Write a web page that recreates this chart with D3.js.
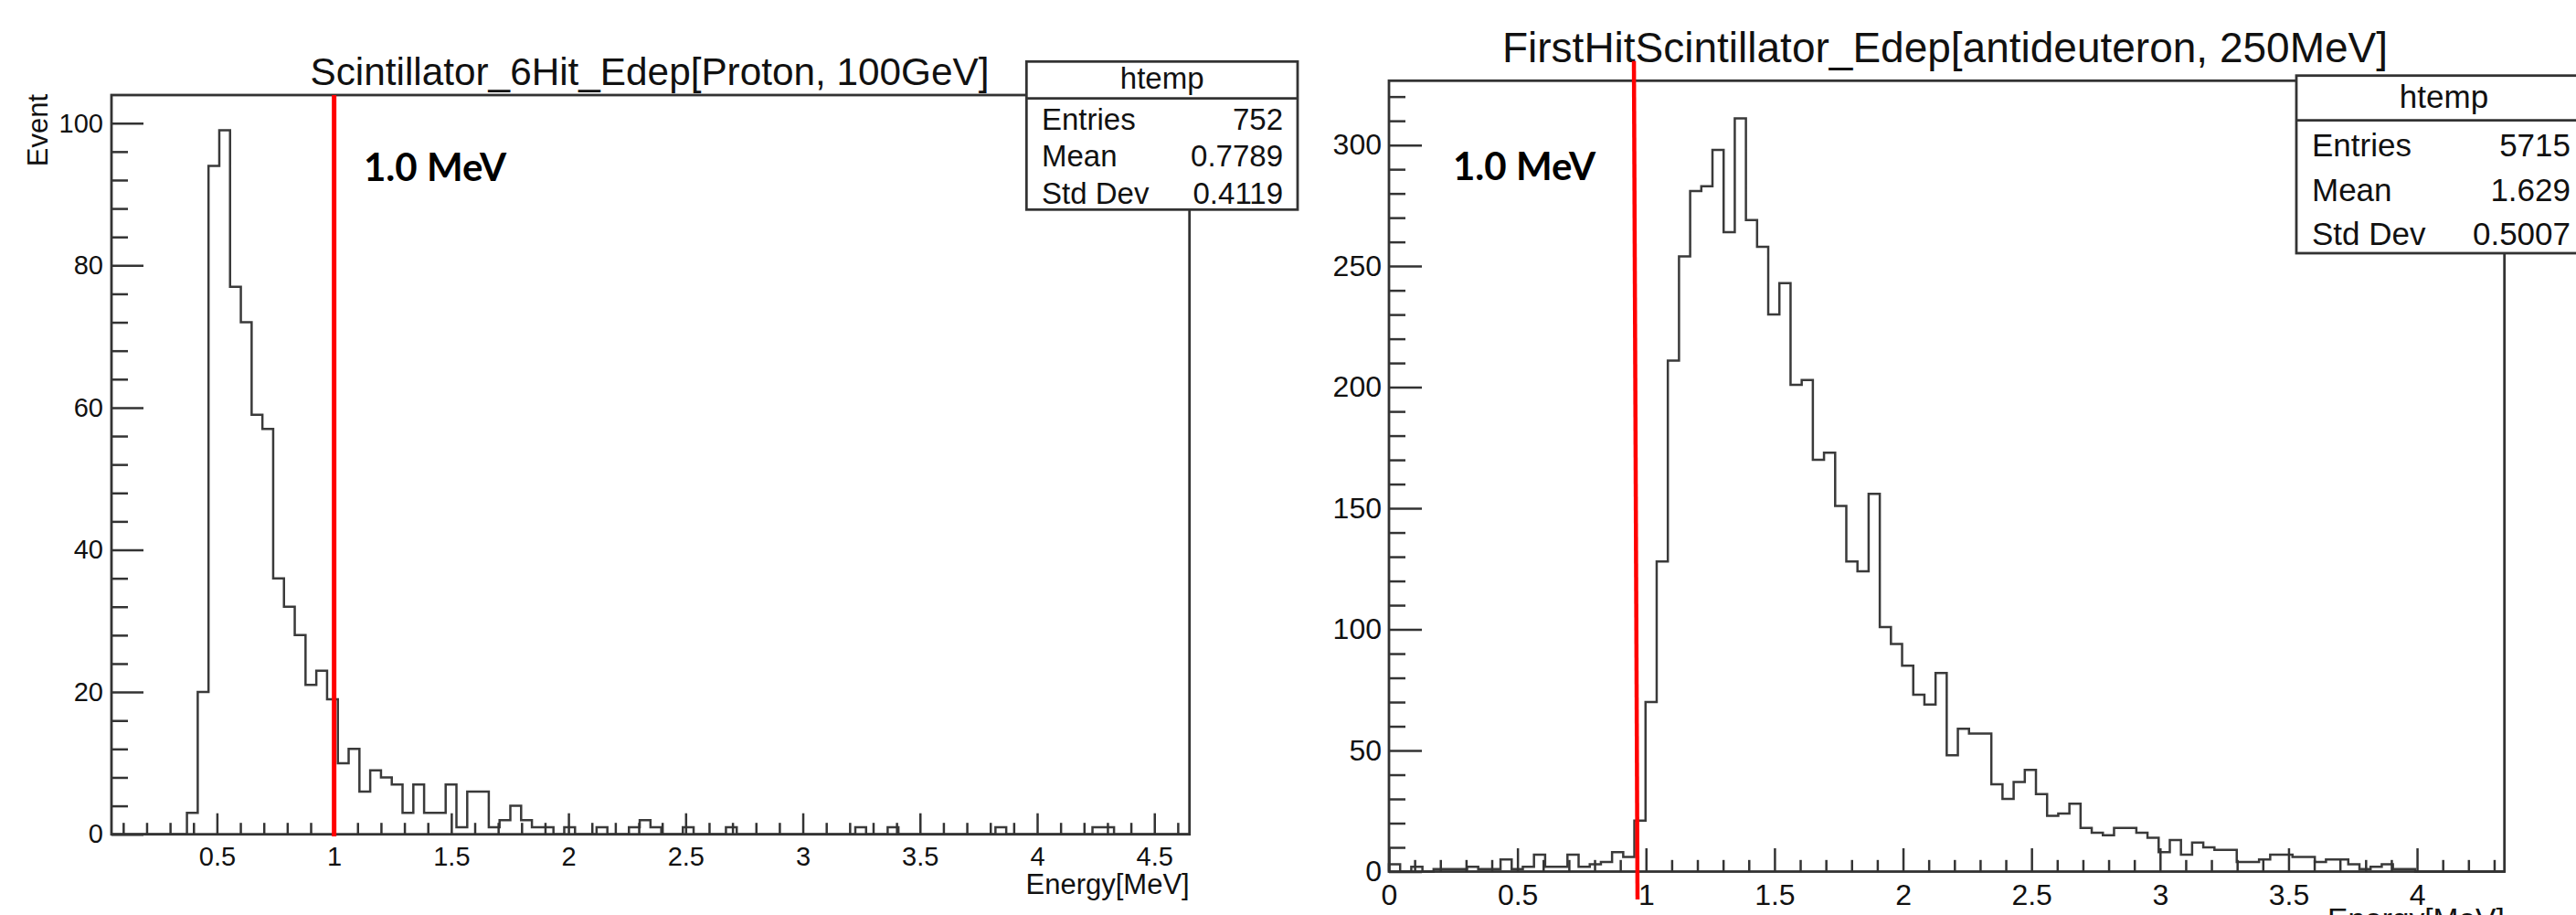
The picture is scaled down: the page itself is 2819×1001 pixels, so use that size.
<!DOCTYPE html>
<html><head><meta charset="utf-8">
<script src="https://cdn.jsdelivr.net/npm/d3@7"></script>
<style>
html,body{margin:0;padding:0;background:#fff;overflow:hidden}
svg{display:block}
</style></head><body>
<svg id="c" width="2819" height="1001"></svg>
<script>
// ---------------- data ----------------
const leftTitle = "Scintillator_6Hit_Edep[Proton, 100GeV]";
const rightTitle = "FirstHitScintillator_Edep[antideuteron, 250MeV]";
const xAxisTitle = "Energy[MeV]";
const yAxisTitle = "Event";
const thresholdLabel = "1.0 MeV";
const leftXRange = [0.05, 4.65];
const rightXRange = [0, 4.34];
const leftCounts = [0,0,0,0,0,0,0,3,20,94, 99,77,72,59,57,36,32,28,21,23,
  19,10,12,6,9,8,7,3,7,3, 3,7,1,6,6,1,2,4,2,1, 1,0,1,0,0,1,0,0,1,2,
  1,0,0,1,0,0,0,1,0,0, 0,0,0,0,0,0,0,0,0,1, 0,0,1,0,0,0,0,0,0,0,
  0,0,1,0,0,0,0,0,0,0, 0,1,1,0,0,0,0,0,0,0];
const rightCounts = [3,0,2,0,1,1,1,2,1,1, 5,1,2,7,2,2,7,2,3,4,
  8,6,21,70,128,211,254,281,283,298, 264,311,269,258,230,243,201,203,170,173,
  151,128,124,156,101,94,85,73,69,82, 48,59,57,57,36,30,37,42,32,23,
  24,28,18,16,15,18,18,16,14,8, 13,7,12,10,9,9,4,4,5,7,
  7,6,6,4,5,5,3,1,2,3, 1,1,0,0,0,0,0,0,0,0];
const statNames = ["Entries", "Mean", "Std Dev"];
const leftStatValues = ["752", "0.7789", "0.4119"];
const rightStatValues = ["5715", "1.629", "0.5007"];
const statHeader = "htemp";
const leftXTicks = [0.5,1,1.5,2,2.5,3,3.5,4,4.5];
const leftYTicks = [0,20,40,60,80,100];
const rightXTicks = [0,0.5,1,1.5,2,2.5,3,3.5,4];
const rightYTicks = [0,50,100,150,200,250,300];
const leftThreshold = [1.0, 1.0];       // red marker (top, bottom)
const rightThreshold = [0.953, 0.967];  // slightly tilted marker

// ---------------- drawing ----------------
const svg = d3.select("#c");
const FONT = "'Liberation Sans', Arial, Helvetica, sans-serif";
const LINE = "#333";

function panel(o) {
  const g = svg.append("g");
  const ymax = d3.max(o.counts) * 1.05;
  const x = d3.scaleLinear().domain(o.xRange).range([o.fx0, o.fx1]);
  const y = d3.scaleLinear().domain([0, ymax]).range([o.fy1, o.fy0]);

  // histogram outline
  const n = o.counts.length, bw = (o.xRange[1] - o.xRange[0]) / n;
  const pts = [[o.xRange[0], 0]];
  o.counts.forEach((c, i) => {
    pts.push([o.xRange[0] + i * bw, c]);
    pts.push([o.xRange[0] + (i + 1) * bw, c]);
  });
  pts.push([o.xRange[1], 0]);
  g.append("path").datum(pts)
    .attr("d", d3.line().x(d => x(d[0])).y(d => y(d[1])))
    .attr("fill", "none").attr("stroke", "#3a3a3a").attr("stroke-width", 2.5)
    .attr("stroke-linejoin", "miter");

  // frame
  g.append("rect").attr("x", x(o.xRange[0])).attr("y", y(ymax))
    .attr("width", x(o.xRange[1]) - x(o.xRange[0])).attr("height", y(0) - y(ymax))
    .attr("fill", "none").attr("stroke", LINE).attr("stroke-width", 2.8);

  const style = s => {
    s.select(".domain").remove();
    s.attr("font-family", FONT).attr("color", LINE);
    s.selectAll("line").attr("stroke-width", 2.5);
    s.selectAll("text").attr("fill", "#111");
  };
  // x axis
  const xMinor = d3.range(Math.ceil(o.xRange[0] * 10 - 1e-6), Math.floor(o.xRange[1] * 10 + 1e-6) + 1)
    .map(v => v / 10).filter(v => Math.abs(v * 2 - Math.round(v * 2)) > 1e-6);
  g.append("g").attr("transform", `translate(0,${y(0)})`)
    .call(d3.axisBottom(x).tickValues(xMinor).tickSize(-o.xMinorLen).tickFormat(""))
    .call(style);
  g.append("g").attr("transform", `translate(0,${y(0)})`)
    .call(d3.axisBottom(x).tickValues(o.xTicks).tickSize(-o.xMajorLen).tickPadding(o.xPad).tickFormat(d3.format("~g")))
    .call(style).attr("font-size", o.tickFont);
  // y axis
  const yMinor = d3.range(0, ymax, o.yMinorStep).filter(v => !o.yTicks.includes(v));
  g.append("g").attr("transform", `translate(${x(o.xRange[0])},0)`)
    .call(d3.axisLeft(y).tickValues(yMinor).tickSize(-o.yMinorLen).tickFormat(""))
    .call(style);
  g.append("g").attr("transform", `translate(${x(o.xRange[0])},0)`)
    .call(d3.axisLeft(y).tickValues(o.yTicks).tickSize(-o.yMajorLen).tickPadding(o.yPad).tickFormat(d3.format("d")))
    .call(style).attr("font-size", o.tickFont);

  // x axis title (right aligned)
  g.append("text").attr("x", x(o.xRange[1])).attr("y", o.xTitleY)
    .attr("text-anchor", "end").attr("font-family", FONT).attr("font-size", o.xTitleFont)
    .attr("fill", "#111").text(xAxisTitle);

  // title
  g.append("text").attr("x", o.titleX).attr("y", o.titleY).attr("text-anchor", "middle")
    .attr("font-family", FONT).attr("font-size", o.titleFont).attr("fill", "#111").text(o.title);

  // red threshold line
  g.append("line")
    .attr("x1", x(o.threshold[0])).attr("y1", o.redTop)
    .attr("x2", x(o.threshold[1])).attr("y2", o.redBottom)
    .attr("stroke", "#ff0000").attr("stroke-width", o.redWidth);

  // threshold label
  g.append("text").attr("x", o.labelX).attr("y", o.labelY)
    .attr("font-family", "Lato, 'Open Sans', sans-serif").attr("font-weight", 700)
    .attr("font-size", 42).attr("fill", "#000").text(thresholdLabel);

  // stats box
  const b = o.box;
  g.append("rect").attr("x", b.x0).attr("y", b.y0).attr("width", b.x1 - b.x0).attr("height", b.y2 - b.y0)
    .attr("fill", "#fff").attr("stroke", LINE).attr("stroke-width", 2.8);
  g.append("line").attr("x1", b.x0).attr("x2", b.x1).attr("y1", b.y1).attr("y2", b.y1)
    .attr("stroke", LINE).attr("stroke-width", 2.8);
  g.append("text").attr("x", b.hx).attr("y", b.hy).attr("text-anchor", "middle")
    .attr("font-family", FONT).attr("font-size", b.font).attr("fill", "#111").text(statHeader);
  statNames.forEach((nm, i) => {
    g.append("text").attr("x", b.lx).attr("y", b.ry0 + i * b.rdy)
      .attr("font-family", FONT).attr("font-size", b.font).attr("fill", "#111").text(nm);
    g.append("text").attr("x", b.vx).attr("y", b.ry0 + i * b.rdy).attr("text-anchor", "end")
      .attr("font-family", FONT).attr("font-size", b.font).attr("fill", "#111").text(o.stats[i]);
  });
  return {x, y};
}

panel({
  title: leftTitle, titleX: 711, titleY: 93, titleFont: 42.3,
  counts: leftCounts, xRange: leftXRange,
  fx0: 122, fx1: 1301.7, fy0: 104, fy1: 912.7,
  xTicks: leftXTicks, yTicks: leftYTicks, yMinorStep: 4,
  xMajorLen: 23, xMinorLen: 12.5, yMajorLen: 35, yMinorLen: 18,
  xPad: 14, yPad: 9, tickFont: 29,
  xTitleY: 978, xTitleFont: 31,
  threshold: leftThreshold, redTop: 104, redBottom: 915, redWidth: 5,
  labelX: 398, labelY: 198,
  stats: leftStatValues,
  box: {x0: 1123.3, x1: 1420, y0: 67.3, y1: 107.7, y2: 229.3, hx: 1271.7, hy: 97,
        lx: 1140, vx: 1404, ry0: 141.7, rdy: 40.5, font: 33}
});

panel({
  title: rightTitle, titleX: 2128.5, titleY: 68.3, titleFont: 46,
  counts: rightCounts, xRange: rightXRange,
  fx0: 1520, fx1: 2740.7, fy0: 88.3, fy1: 953.5,
  xTicks: rightXTicks, yTicks: rightYTicks, yMinorStep: 10,
  xMajorLen: 25.5, xMinorLen: 12.7, yMajorLen: 36, yMinorLen: 18,
  xPad: 14, yPad: 8, tickFont: 32,
  xTitleY: 1017, xTitleFont: 33.5,
  threshold: rightThreshold, redTop: 66.7, redBottom: 984, redWidth: 4.5,
  labelX: 1590, labelY: 196.7,
  stats: rightStatValues,
  box: {x0: 2513, x1: 2832, y0: 82.7, y1: 131.7, y2: 277, hx: 2674.5, hy: 118.3,
        lx: 2530, vx: 2813, ry0: 171, rdy: 48.5, font: 35}
});

// y axis title (left panel only)
svg.append("text").attr("transform", "translate(52,103) rotate(-90)")
  .attr("text-anchor", "end").attr("font-family", FONT).attr("font-size", 31)
  .attr("fill", "#111").text(yAxisTitle);
</script>
</body></html>
